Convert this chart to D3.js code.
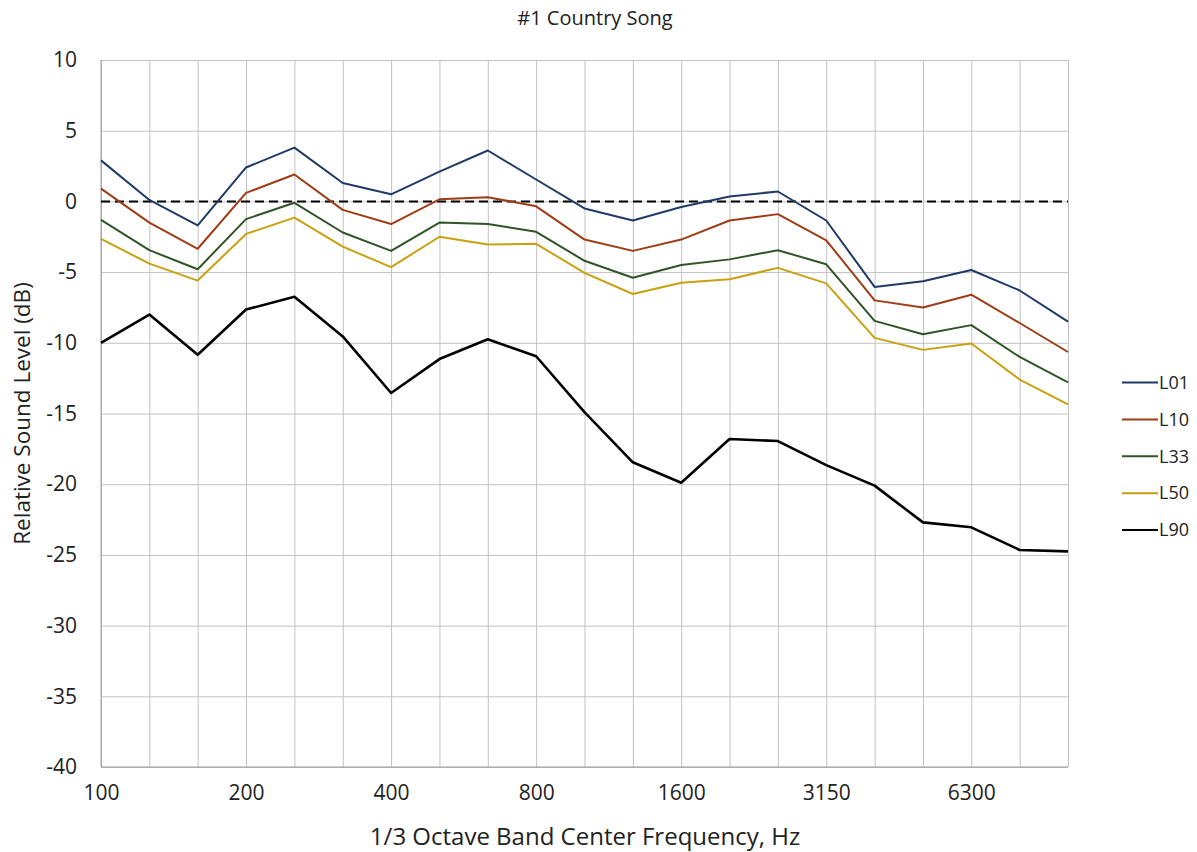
<!DOCTYPE html>
<html>
<head>
<meta charset="utf-8">
<script src="https://cdn.jsdelivr.net/npm/d3@7"></script>
<style>
  html, body { margin: 0; padding: 0; background: #fff; }
  svg { display: block; font-family: "Open Sans", "DejaVu Sans", sans-serif; }
</style>
</head>
<body>
<svg id="chart" width="1197" height="852"></svg>
<script>
const frequencies = ["100","125","160","200","250","315","400","500","630","800","1000","1250","1600","2000","2500","3150","4000","5000","6300","8000","10000"];
const xTickLabels = ["100","200","400","800","1600","3150","6300"];
const yTickValues = [10,5,0,-5,-10,-15,-20,-25,-30,-35,-40];
const seriesNames = ["L01","L10","L33","L50","L90"];
const L01 = [2.9,0.1,-1.7,2.4,3.8,1.3,0.5,2.1,3.6,1.55,-0.5,-1.35,-0.4,0.35,0.7,-1.35,-6.05,-5.65,-4.85,-6.3,-8.5];
const L10 = [0.9,-1.5,-3.35,0.6,1.9,-0.6,-1.6,0.15,0.3,-0.35,-2.7,-3.5,-2.7,-1.35,-0.9,-2.75,-7.0,-7.5,-6.6,-8.6,-10.65];
const L33 = [-1.3,-3.45,-4.8,-1.25,-0.1,-2.2,-3.5,-1.5,-1.6,-2.15,-4.2,-5.4,-4.5,-4.1,-3.45,-4.45,-8.45,-9.4,-8.75,-11.0,-12.8];
const L50 = [-2.65,-4.4,-5.6,-2.3,-1.15,-3.2,-4.65,-2.5,-3.05,-3.0,-5.05,-6.55,-5.75,-5.5,-4.7,-5.8,-9.65,-10.5,-10.05,-12.6,-14.35];
const L90 = [-10.0,-8.0,-10.85,-7.65,-6.75,-9.55,-13.55,-11.15,-9.75,-10.95,-14.9,-18.45,-19.9,-16.8,-16.95,-18.65,-20.1,-22.7,-23.05,-24.65,-24.75];
const referenceLevel = [0];

(function draw() {
const seriesValues = [L01, L10, L33, L50, L90];
const colors = ["#1f3a66", "#9e3c16", "#2f5526", "#c9a010", "#000000"];

const svg = d3.select("#chart");
const mLeft = 101, mRight = 1068, mTop = 60, mBottom = 767;

const x = d3.scalePoint().domain(frequencies).range([mLeft, mRight]);
const y = d3.scaleLinear().domain([-40, 10]).range([mBottom, mTop]);

// vertical gridlines
svg.append("g")
  .attr("transform", `translate(0,${mBottom})`)
  .call(d3.axisBottom(x).tickSize(-(mBottom - mTop)).tickFormat(""))
  .call(g => g.select(".domain").remove())
  .call(g => g.selectAll("line").attr("stroke", "#c2c2c2").attr("stroke-width", 1));

// horizontal gridlines
svg.append("g")
  .attr("transform", `translate(${mLeft},0)`)
  .call(d3.axisLeft(y).tickValues(yTickValues).tickSize(-(mRight - mLeft)).tickFormat(""))
  .call(g => g.select(".domain").remove())
  .call(g => g.selectAll("line").attr("stroke", "#c2c2c2").attr("stroke-width", 1));

// axis lines
svg.append("line").attr("x1", mLeft).attr("x2", mLeft).attr("y1", mTop).attr("y2", mBottom)
  .attr("stroke", "#9a9a9a").attr("stroke-width", 1);
svg.append("line").attr("x1", mLeft).attr("x2", mRight).attr("y1", mBottom).attr("y2", mBottom)
  .attr("stroke", "#9a9a9a").attr("stroke-width", 1);

// y tick labels (plain hyphen minus, as in the reference)
svg.append("g")
  .attr("transform", `translate(${mLeft},0)`)
  .call(d3.axisLeft(y).tickValues(yTickValues).tickSize(0).tickPadding(24).tickFormat(d => String(d)))
  .call(g => g.select(".domain").remove())
  .call(g => g.selectAll("text").attr("font-size", 21).attr("fill", "#222").attr("font-family", "Open Sans"));

// x tick labels
svg.append("g")
  .attr("transform", `translate(0,${mBottom})`)
  .call(d3.axisBottom(x).tickValues(xTickLabels).tickSize(0).tickPadding(18))
  .call(g => g.select(".domain").remove())
  .call(g => g.selectAll("text").attr("font-size", 21).attr("fill", "#222").attr("font-family", "Open Sans"));

// dashed reference line
svg.selectAll(".ref").data(referenceLevel).enter().append("line")
  .attr("x1", mLeft).attr("x2", mRight)
  .attr("y1", d => y(d)).attr("y2", d => y(d))
  .attr("stroke", "#000").attr("stroke-width", 2).attr("stroke-dasharray", "9,5");

// series lines
const line = d3.line().x((d, i) => x(frequencies[i])).y(d => y(d));
svg.selectAll(".series").data(seriesValues).enter().append("path")
  .attr("d", d => line(d))
  .attr("fill", "none")
  .attr("stroke", (d, i) => colors[i])
  .attr("stroke-width", (d, i) => i === 4 ? 2.6 : 2)
  .attr("stroke-linejoin", "round");

// title
svg.append("text").attr("x", 595).attr("y", 25).attr("text-anchor", "middle")
  .attr("font-size", 20).attr("fill", "#222").text("#1 Country Song");

// x axis title
svg.append("text").attr("x", 585).attr("y", 845).attr("text-anchor", "middle")
  .attr("font-size", 24).attr("fill", "#222").text("1/3 Octave Band Center Frequency, Hz");

// y axis title
svg.append("text").attr("transform", `translate(30,${(mTop + mBottom) / 2}) rotate(-90)`)
  .attr("text-anchor", "middle").attr("font-size", 22.5).attr("fill", "#222")
  .text("Relative Sound Level (dB)");

// legend
const legend = svg.append("g");
const legendY = d3.scalePoint().domain(seriesNames).range([382.5, 530]);
seriesNames.forEach((name, i) => {
  const g = legend.append("g").attr("transform", `translate(0,${legendY(name)})`);
  g.append("line").attr("x1", 1122).attr("x2", 1158).attr("y1", 0).attr("y2", 0)
    .attr("stroke", colors[i]).attr("stroke-width", 2);
  g.append("text").attr("x", 1159).attr("y", 0).attr("dy", "0.35em")
    .attr("font-size", 18).attr("fill", "#222").text(name);
});
})();
</script>
</body>
</html>
